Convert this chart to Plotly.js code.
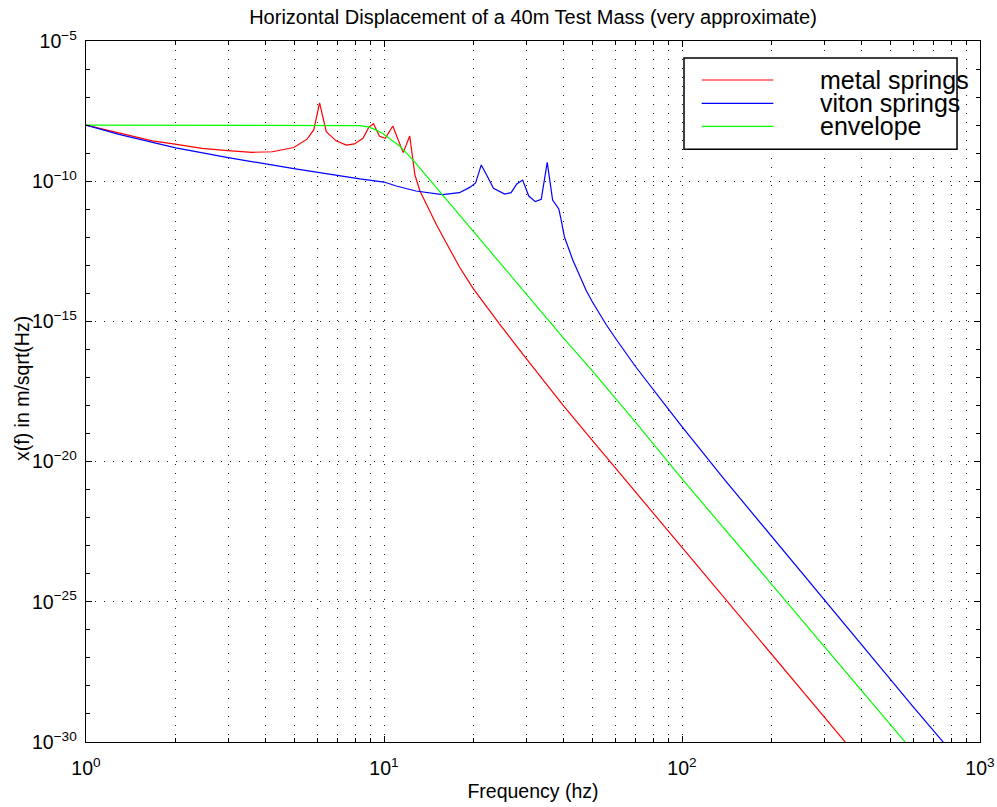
<!DOCTYPE html>
<html>
<head>
<meta charset="utf-8">
<script src="https://cdn.plot.ly/plotly-3.0.1.min.js"></script>
<style>
  html, body { margin: 0; padding: 0; background: #fff; }
  #chart { width: 997px; height: 807px; }
</style>
</head>
<body>
<div id="chart"></div>
<script>
// ---- Data ----
// Frequencies in Hz; amplitudes given as log10 exponents of x(f) [m/sqrt(Hz)]
var metalFreq = [1, 1.29, 1.67, 1.99, 2.45, 2.99, 3.61, 4.22, 4.98, 5.52, 5.81, 6.08, 6.40, 6.91, 7.47, 7.96, 8.50, 8.89, 9.22, 9.66, 10.1, 10.7, 11.6, 12.2, 12.7, 13.2, 13.9, 15.0, 16.2, 17.9, 19.9, 24.4, 29.8, 39.8, 49.6, 58.6, 100, 200, 298, 358];
var metalExp  = [-8.00, -8.29, -8.56, -8.68, -8.83, -8.91, -8.97, -8.95, -8.80, -8.50, -8.17, -7.21, -8.23, -8.56, -8.71, -8.67, -8.47, -8.08, -7.95, -8.40, -8.47, -8.03, -8.98, -8.39, -9.78, -10.35, -10.85, -11.55, -12.21, -13.05, -13.82, -15.09, -16.28, -17.98, -19.20, -20.12, -23.05, -26.87, -29.07, -30.08];

var vitonFreq = [1, 1.29, 2.0, 3.0, 4.98, 5.92, 7.0, 8.3, 10.0, 11.0, 12.8, 15.7, 17.9, 19.4, 20.3, 21.2, 22.1, 23.3, 25.4, 26.7, 27.9, 29.2, 30.6, 32.2, 33.7, 35.3, 36.8, 38.6, 39.3, 40.3, 43.0, 47.7, 50.0, 55.7, 59.8, 69.7, 89.6, 100, 137.8, 168.5, 199, 298, 399, 596, 766];
var vitonExp  = [-8.00, -8.33, -8.81, -9.16, -9.55, -9.68, -9.80, -9.92, -10.03, -10.17, -10.35, -10.48, -10.41, -10.22, -10.06, -9.42, -9.78, -10.25, -10.46, -10.41, -10.10, -9.96, -10.53, -10.73, -10.65, -9.33, -10.67, -10.99, -11.38, -11.98, -12.81, -13.90, -14.30, -15.12, -15.60, -16.60, -18.10, -18.75, -20.60, -21.72, -22.65, -24.91, -26.53, -28.74, -30.10];

var envFreq = [1, 2, 4, 6, 7.5, 8.3, 8.9, 9.4, 9.9, 10.7, 11.3, 12.5, 14.2, 15.7, 19.8, 24.4, 29.8, 39.7, 49.6, 69.7, 89.6, 100, 199, 298, 399, 573];
var envExp  = [-8.00, -8.00, -8.00, -8.00, -8.00, -8.02, -8.07, -8.17, -8.30, -8.55, -8.75, -9.24, -9.93, -10.48, -11.74, -12.88, -13.98, -15.55, -16.72, -18.58, -20.00, -20.62, -24.35, -26.55, -28.15, -30.12];

var seriesNames  = ["metal springs", "viton springs", "envelope"];
var seriesColors = ["#ff0000", "#0000ff", "#00ff00"];

var xTickVals  = [1, 10, 100, 1000];
var xTickText  = ["10<sup>0</sup>", "10<sup>1</sup>", "10<sup>2</sup>", "10<sup>3</sup>"];
var xMinorVals = [2,3,4,5,6,7,8,9,20,30,40,50,60,70,80,90,200,300,400,500,600,700,800,900];
var yTickVals  = [1e-30, 1e-25, 1e-20, 1e-15, 1e-10, 1e-5];
var yTickText  = ["10<sup>−30</sup>", "10<sup>−25</sup>", "10<sup>−20</sup>", "10<sup>−15</sup>", "10<sup>−10</sup>", "10<sup>−5</sup>"];
var yMinorVals = [1e-29,1e-28,1e-27,1e-26,1e-24,1e-23,1e-22,1e-21,1e-19,1e-18,1e-17,1e-16,1e-14,1e-13,1e-12,1e-11,1e-9,1e-8,1e-7,1e-6];

var yTitleText = "x(f) in m/sqrt(Hz)";

function pow10(arr) { return arr.map(function (e) { return Math.pow(10, e); }); }

var FONT = "Arial, 'Liberation Sans', Helvetica, sans-serif";

var traces = [
  { x: metalFreq, y: pow10(metalExp), name: seriesNames[0], mode: "lines", line: { color: seriesColors[0], width: 1.2 } },
  { x: vitonFreq, y: pow10(vitonExp), name: seriesNames[1], mode: "lines", line: { color: seriesColors[1], width: 1.2 } },
  { x: envFreq,   y: pow10(envExp),   name: seriesNames[2], mode: "lines", line: { color: seriesColors[2], width: 1.2 } }
];

var GRID_DASH = "1px,8px";

// manual legend (box, sample lines, labels) in paper coordinates
var legBox = { x0: 0.6689, x1: 0.9743, y0: 0.8455, y1: 0.9757 };
var legLineX = [0.6887, 0.7688];
var legRowY = [0.9444, 0.9111, 0.8783];
var legTextX = 0.8191;

var shapes = [
  { type: "rect", xref: "paper", yref: "paper", x0: legBox.x0, x1: legBox.x1, y0: legBox.y0, y1: legBox.y1,
    line: { color: "#000", width: 1.5 }, fillcolor: "#ffffff", layer: "above" }
];
var annotations = [
  { xref: "paper", yref: "paper", x: -0.0716, y: 0.505, xanchor: "center", yanchor: "middle", textangle: -90,
    text: yTitleText, showarrow: false, font: { family: FONT, size: 19.5, color: "#000" } }
];
for (var i = 0; i < seriesNames.length; i++) {
  shapes.push({ type: "line", xref: "paper", yref: "paper", x0: legLineX[0], x1: legLineX[1], y0: legRowY[i], y1: legRowY[i],
    line: { color: seriesColors[i], width: 1.2 }, layer: "above" });
  annotations.push({ xref: "paper", yref: "paper", x: legTextX, y: legRowY[i], xanchor: "left", yanchor: "middle",
    text: seriesNames[i], showarrow: false, font: { family: FONT, size: 25, color: "#000" } });
}

var layout = {
  width: 997, height: 807,
  margin: { l: 86, r: 17, t: 41, b: 65, pad: 0 },
  paper_bgcolor: "#fff", plot_bgcolor: "#fff",
  showlegend: false,
  font: { family: FONT, size: 19.5, color: "#000" },
  title: { text: "Horizontal Displacement of a 40m Test Mass (very approximate)",
           font: { family: FONT, size: 20, color: "#000" },
           x: 0.5, xref: "paper", y: 0.979, yref: "container", yanchor: "middle" },
  xaxis: {
    type: "log", range: [0, 3], autorange: false,
    tickmode: "array", tickvals: xTickVals, ticktext: xTickText,
    ticks: "inside", ticklen: 6, tickwidth: 1, tickcolor: "#000",
    showline: true, linecolor: "#000", linewidth: 1.3, mirror: "ticks",
    showgrid: true, gridcolor: "#222", gridwidth: 1, griddash: GRID_DASH,
    zeroline: false,
    ticklabelstandoff: 8,
    tickfont: { family: FONT, size: 19.5, color: "#000" },
    title: { text: "Frequency (hz)", font: { family: FONT, size: 19.5, color: "#000" }, standoff: 6 },
    minor: { tickmode: "array", tickvals: xMinorVals, ticks: "inside", ticklen: 4, tickcolor: "#000",
             showgrid: true, gridcolor: "#222", gridwidth: 1, griddash: GRID_DASH }
  },
  yaxis: {
    type: "log", range: [-30, -5], autorange: false,
    tickmode: "array", tickvals: yTickVals, ticktext: yTickText,
    ticks: "inside", ticklen: 6, tickwidth: 1, tickcolor: "#000",
    showline: true, linecolor: "#000", linewidth: 1.3, mirror: "ticks",
    showgrid: true, gridcolor: "#222", gridwidth: 1, griddash: GRID_DASH,
    zeroline: false,
    ticklabelstandoff: 4,
    tickfont: { family: FONT, size: 19.5, color: "#000" },
    minor: { tickmode: "array", tickvals: yMinorVals, ticks: "inside", ticklen: 4, tickcolor: "#000", showgrid: false }
  },
  shapes: shapes,
  annotations: annotations
};

Plotly.newPlot("chart", traces, layout, { displayModeBar: false, staticPlot: true });
</script>
</body>
</html>
